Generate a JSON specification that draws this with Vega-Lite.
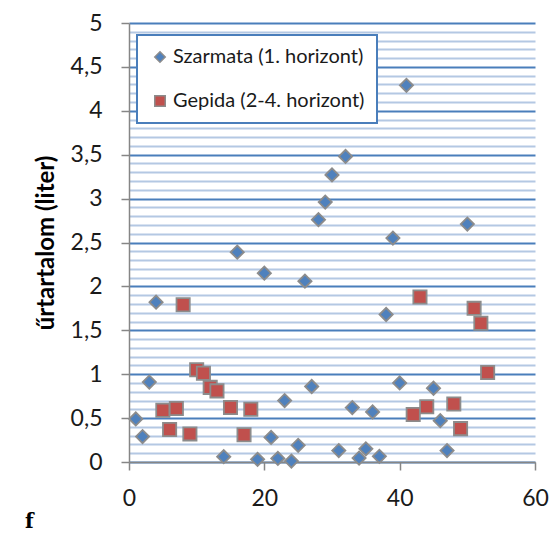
{
  "$schema": "https://vega.github.io/schema/vega-lite/v6.json",
  "width": 406,
  "height": 439,
  "autosize": {"type": "none"},
  "padding": {"left": 129, "top": 23, "right": 16, "bottom": 73},
  "background": "white",
  "config": {"view": {"stroke": null}, "font": "Lato"},
  "title": {"text": "f", "orient": "bottom", "anchor": "start", "frame": "group", "font": "DejaVu Serif", "fontWeight": "bold", "fontSize": 20, "color": "#000000", "dx": -104, "offset": 2},
  "data": {"values": [
    {"x": 1, "y": 0.49, "g": "Szarmata (1. horizont)"},
    {"x": 2, "y": 0.29, "g": "Szarmata (1. horizont)"},
    {"x": 3, "y": 0.91, "g": "Szarmata (1. horizont)"},
    {"x": 4, "y": 1.82, "g": "Szarmata (1. horizont)"},
    {"x": 14, "y": 0.06, "g": "Szarmata (1. horizont)"},
    {"x": 16, "y": 2.39, "g": "Szarmata (1. horizont)"},
    {"x": 19, "y": 0.03, "g": "Szarmata (1. horizont)"},
    {"x": 20, "y": 2.15, "g": "Szarmata (1. horizont)"},
    {"x": 21, "y": 0.28, "g": "Szarmata (1. horizont)"},
    {"x": 22, "y": 0.04, "g": "Szarmata (1. horizont)"},
    {"x": 23, "y": 0.70, "g": "Szarmata (1. horizont)"},
    {"x": 24, "y": 0.01, "g": "Szarmata (1. horizont)"},
    {"x": 25, "y": 0.19, "g": "Szarmata (1. horizont)"},
    {"x": 26, "y": 2.06, "g": "Szarmata (1. horizont)"},
    {"x": 27, "y": 0.86, "g": "Szarmata (1. horizont)"},
    {"x": 28, "y": 2.76, "g": "Szarmata (1. horizont)"},
    {"x": 29, "y": 2.96, "g": "Szarmata (1. horizont)"},
    {"x": 30, "y": 3.27, "g": "Szarmata (1. horizont)"},
    {"x": 31, "y": 0.13, "g": "Szarmata (1. horizont)"},
    {"x": 32, "y": 3.48, "g": "Szarmata (1. horizont)"},
    {"x": 33, "y": 0.62, "g": "Szarmata (1. horizont)"},
    {"x": 34, "y": 0.045, "g": "Szarmata (1. horizont)"},
    {"x": 35, "y": 0.15, "g": "Szarmata (1. horizont)"},
    {"x": 36, "y": 0.57, "g": "Szarmata (1. horizont)"},
    {"x": 37, "y": 0.065, "g": "Szarmata (1. horizont)"},
    {"x": 38, "y": 1.68, "g": "Szarmata (1. horizont)"},
    {"x": 39, "y": 2.55, "g": "Szarmata (1. horizont)"},
    {"x": 40, "y": 0.90, "g": "Szarmata (1. horizont)"},
    {"x": 41, "y": 4.29, "g": "Szarmata (1. horizont)"},
    {"x": 45, "y": 0.84, "g": "Szarmata (1. horizont)"},
    {"x": 46, "y": 0.47, "g": "Szarmata (1. horizont)"},
    {"x": 47, "y": 0.13, "g": "Szarmata (1. horizont)"},
    {"x": 50, "y": 2.71, "g": "Szarmata (1. horizont)"},
    {"x": 5, "y": 0.59, "g": "Gepida (2-4. horizont)"},
    {"x": 6, "y": 0.37, "g": "Gepida (2-4. horizont)"},
    {"x": 7, "y": 0.61, "g": "Gepida (2-4. horizont)"},
    {"x": 8, "y": 1.79, "g": "Gepida (2-4. horizont)"},
    {"x": 9, "y": 0.32, "g": "Gepida (2-4. horizont)"},
    {"x": 10, "y": 1.05, "g": "Gepida (2-4. horizont)"},
    {"x": 11, "y": 1.01, "g": "Gepida (2-4. horizont)"},
    {"x": 12, "y": 0.85, "g": "Gepida (2-4. horizont)"},
    {"x": 13, "y": 0.81, "g": "Gepida (2-4. horizont)"},
    {"x": 15, "y": 0.62, "g": "Gepida (2-4. horizont)"},
    {"x": 17, "y": 0.31, "g": "Gepida (2-4. horizont)"},
    {"x": 18, "y": 0.60, "g": "Gepida (2-4. horizont)"},
    {"x": 42, "y": 0.54, "g": "Gepida (2-4. horizont)"},
    {"x": 43, "y": 1.88, "g": "Gepida (2-4. horizont)"},
    {"x": 44, "y": 0.63, "g": "Gepida (2-4. horizont)"},
    {"x": 48, "y": 0.66, "g": "Gepida (2-4. horizont)"},
    {"x": 49, "y": 0.38, "g": "Gepida (2-4. horizont)"},
    {"x": 51, "y": 1.75, "g": "Gepida (2-4. horizont)"},
    {"x": 52, "y": 1.58, "g": "Gepida (2-4. horizont)"},
    {"x": 53, "y": 1.02, "g": "Gepida (2-4. horizont)"}
  ]},
  "mark": {"type": "point", "filled": true, "opacity": 1, "size": 175, "stroke": "#8c8c8c", "strokeWidth": 1.8},
  "encoding": {
    "x": {
      "field": "x", "type": "quantitative",
      "scale": {"domain": [0, 60], "nice": false},
      "axis": {
        "title": null, "values": [0, 20, 40, 60], "grid": false,
        "domainColor": "#868686", "domainWidth": 1.5,
        "tickColor": "#868686", "tickWidth": 1.5, "tickSize": 8,
        "labelFont": "Lato", "labelFontSize": 23, "labelColor": "#1a1a1a",
        "labelPadding": 17, "labelFlush": false, "labelOverlap": false
      }
    },
    "y": {
      "field": "y", "type": "quantitative",
      "scale": {"domain": [0, 5], "nice": false},
      "axis": {
        "title": "űrtartalom (liter)", "titleFont": "Lato", "titleFontSize": 24, "titleFontWeight": "bold", "titleColor": "#000000", "titlePadding": 12,
        "values": [0, 0.1, 0.2, 0.3, 0.4, 0.5, 0.6, 0.7, 0.8, 0.9, 1, 1.1, 1.2, 1.3, 1.4, 1.5, 1.6, 1.7, 1.8, 1.9, 2, 2.1, 2.2, 2.3, 2.4, 2.5, 2.6, 2.7, 2.8, 2.9, 3, 3.1, 3.2, 3.3, 3.4, 3.5, 3.6, 3.7, 3.8, 3.9, 4, 4.1, 4.2, 4.3, 4.4, 4.5, 4.6, 4.7, 4.8, 4.9, 5],
        "labelExpr": "round(datum.value * 10) % 5 === 0 ? replace(toString(datum.value), '.', ',') : ''",
        "labelOverlap": false, "labelFlush": false, "labelBound": false,
        "labelFont": "Lato", "labelFontSize": 23, "labelColor": "#1a1a1a", "labelPadding": 19,
        "domainColor": "#868686", "domainWidth": 1.5,
        "tickColor": "#868686", "tickWidth": 1.5, "tickSize": 8,
        "tickOpacity": {"condition": {"test": "round(datum.value * 10) % 5 === 0", "value": 1}, "value": 0},
        "grid": true,
        "gridColor": {"condition": {"test": "round(datum.value * 10) % 5 === 0", "value": "#4a7ebb"}, "value": "#b4c8e3"},
        "gridWidth": 2
      }
    },
    "color": {
      "field": "g", "type": "nominal",
      "scale": {"domain": ["Szarmata (1. horizont)", "Gepida (2-4. horizont)"], "range": ["#4f81bd", "#c0504d"]},
      "legend": {
        "title": null, "orient": "none", "legendX": 8, "legendY": 12,
        "padding": 12, "rowPadding": 24, "symbolOffset": 1, "labelOffset": 3,
        "fillColor": "#ffffff", "strokeColor": "#4a7ebb",
        "labelFont": "Lato", "labelFontSize": 20, "labelColor": "#1a1a1a", "labelLimit": 400,
        "symbolSize": 110, "symbolStrokeColor": "#8c8c8c", "symbolStrokeWidth": 1.5, "symbolOpacity": 1,
        "encode": {"legend": {"update": {"strokeWidth": {"value": 2}}}}
      }
    },
    "shape": {
      "field": "g", "type": "nominal",
      "scale": {"domain": ["Szarmata (1. horizont)", "Gepida (2-4. horizont)"], "range": ["diamond", "square"]}
    }
  }
}
